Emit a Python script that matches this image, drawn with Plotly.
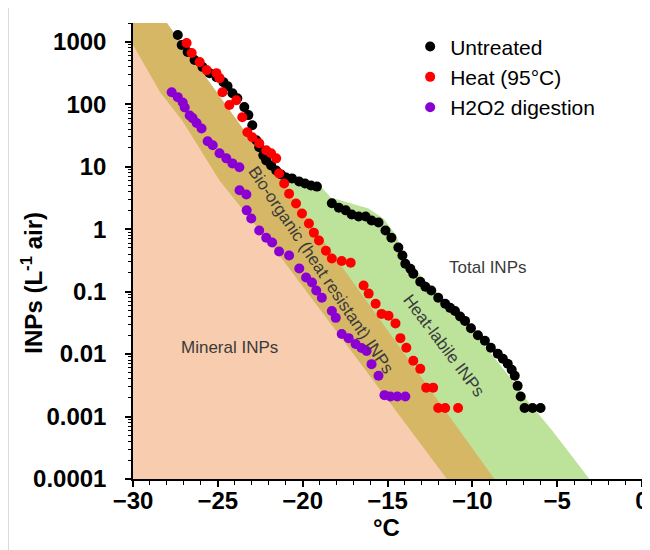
import plotly.graph_objects as go

# ---------------- data ----------------
untreated_T = [-27.36, -27.13, -26.78, -26.37, -25.90, -25.49, -25.08, -24.67, -24.43, -24.14,
               -23.85, -23.44, -23.20, -22.97, -22.73, -22.56, -22.32, -22.15, -21.86, -21.56,
               -21.27, -20.98, -20.63, -20.21, -19.86, -19.51, -19.16, -18.28, -17.87, -17.46,
               -17.11, -16.70, -16.29, -15.94, -15.53, -15.12, -14.77, -14.36, -14.12, -13.95,
               -13.65, -13.48, -13.07, -12.77, -12.42, -12.01, -11.60, -11.31, -11.02, -10.72,
               -10.43, -10.08, -9.67, -9.26, -8.91, -8.50, -8.20, -7.91, -7.68, -7.50,
               -7.33, -7.15, -6.92, -6.45, -5.98]
untreated_inp = [1282, 887, 686, 510, 394, 315, 272, 226, 195, 150,
                 125, 90, 67, 46, 26.5, 20.5, 15.2, 12.6, 10.5, 8.7,
                 7.5, 6.7, 6.5, 5.8, 5.4, 5.0, 4.8, 2.6, 2.2, 2.0,
                 1.72, 1.6, 1.6, 1.38, 1.28, 0.95, 0.73, 0.51, 0.38, 0.28,
                 0.233, 0.194, 0.144, 0.12, 0.104, 0.08, 0.064, 0.055, 0.049, 0.040,
                 0.034, 0.026, 0.020, 0.0163, 0.0126, 0.0101, 0.0084, 0.0070, 0.0056, 0.0045,
                 0.0031, 0.0021, 0.00137, 0.00137, 0.00137]

heat_T = [-26.84, -26.54, -26.07, -25.66, -25.08, -24.90, -24.73, -24.32, -23.91, -23.56,
          -23.26, -22.97, -22.56, -22.15, -21.86, -21.56, -21.39, -21.09, -20.80, -20.39,
          -20.04, -19.63, -19.34, -19.04, -18.63, -18.28, -17.70, -17.17, -16.41, -16.11,
          -15.70, -15.35, -14.94, -14.53, -14.24, -13.89, -13.48, -13.07, -12.72, -12.31,
          -12.01, -11.60, -10.84]
heat_inp = [955, 660, 473, 352, 315, 262, 156, 97, 116, 62,
            35.6, 29.6, 23.7, 18.3, 16.4, 13.6, 7.8, 5.4, 3.7, 2.58,
            1.78, 1.23, 0.88, 0.66, 0.45, 0.34, 0.31, 0.29, 0.125, 0.093,
            0.064, 0.044, 0.041, 0.031, 0.018, 0.0126, 0.0078, 0.0058, 0.0029, 0.0029,
            0.00137, 0.00137, 0.00137]

h2o2_T = [-27.72, -27.36, -27.07, -26.95, -26.66, -26.49, -26.25, -25.96, -25.60, -25.30,
          -24.90, -24.50, -24.14, -23.73, -23.72, -23.32, -23.30, -23.03, -22.56, -22.15,
          -21.80, -21.39, -20.80, -20.20, -19.80, -19.45, -19.20, -18.87, -18.28, -18.05,
          -17.70, -17.29, -16.88, -16.53, -16.23, -15.94, -15.53, -15.18, -14.83, -14.42,
          -13.95]
h2o2_inp = [156, 130, 107, 89, 66, 60, 50, 41, 25.5, 22,
            16.4, 13.6, 11.3, 9.8, 4.2, 3.6, 2.0, 1.48, 0.95, 0.73,
            0.61, 0.44, 0.38, 0.234, 0.168, 0.14, 0.104, 0.08, 0.049, 0.038,
            0.021, 0.018, 0.0145, 0.0125, 0.0112, 0.0069, 0.0045, 0.0022, 0.0021, 0.0021,
            0.0021]

# shaded-region boundaries (temperature, INP L-1)
T_MIN, T_MAX = -30, 0
INP_MIN, INP_MAX = 1e-4, 2000
mineral_T = [-30, -28.4, -27.1, -24.9, -21.6, -17.7, -11.5]
mineral_inp = [900, 155, 55, 6, 0.46, 0.018, 1e-4]
bio_T = [-28.0, -8.7]
bio_inp = [2000, 1e-4]
labile_T = [-22.56, -21.68, -20.22, -18.93, -18.34, -16.12, -15.24, -14.48, -14.07,
            -12.9, -11.72, -10.26, -8.79, -7.62, -6.74, -5.28, -3.1]
labile_inp = [17.5, 8.7, 6.0, 4.84, 3.2, 2.15, 1.48, 0.79, 0.38,
              0.162, 0.077, 0.0284, 0.0094, 0.0037, 0.00178, 0.00059, 1e-4]

x_ticks = [-30, -25, -20, -15, -10, -5, 0]
y_ticks = [1e-4, 1e-3, 1e-2, 1e-1, 1, 10, 100, 1000]
y_tick_text = ["0.0001", "0.001", "0.01", "0.1", "1", "10", "100", "1000"]

series_names = ["Untreated", "Heat (95°C)", "H2O2 digestion"]
region_labels = ["Total INPs", "Heat-labile INPs", "Bio-organic (heat resistant) INPs", "Mineral INPs"]
x_title = "°C"
y_title = "INPs (L<sup>-1</sup> air)"

# ---------------- figure ----------------
FONT = "Liberation Sans, Arial, Helvetica, sans-serif"
GREEN = "#BDE39A"
TAN = "#D6B766"
PINK = "#F8CCAE"

fig = go.Figure()

# green (heat-labile) region: from top-left corner, along the total-INP boundary
fig.add_trace(go.Scatter(x=[T_MIN, bio_T[0]] + labile_T + [T_MIN],
                         y=[INP_MAX, INP_MAX] + labile_inp + [INP_MIN],
                         fill="toself", fillcolor=GREEN, mode="none",
                         hoverinfo="skip", showlegend=False))
# tan (bio-organic heat-resistant) region
fig.add_trace(go.Scatter(x=[T_MIN] + bio_T + [T_MIN],
                         y=[INP_MAX] + bio_inp + [INP_MIN],
                         fill="toself", fillcolor=TAN, mode="none",
                         hoverinfo="skip", showlegend=False))
# pink (mineral) region
fig.add_trace(go.Scatter(x=mineral_T + [T_MIN],
                         y=mineral_inp + [INP_MIN],
                         fill="toself", fillcolor=PINK, mode="none",
                         hoverinfo="skip", showlegend=False))

fig.add_trace(go.Scatter(x=untreated_T, y=untreated_inp, mode="markers", name=series_names[0],
                         marker=dict(color="#000000", size=10)))
fig.add_trace(go.Scatter(x=heat_T, y=heat_inp, mode="markers", name=series_names[1],
                         marker=dict(color="#FF0000", size=10)))
fig.add_trace(go.Scatter(x=h2o2_T, y=h2o2_inp, mode="markers", name=series_names[2],
                         marker=dict(color="#8A00D2", size=10)))

ann_font = dict(family=FONT, size=17, color="#3A3A3A")
fig.add_annotation(x=-9.1, y=-0.62, xref="x", yref="y", text=region_labels[0],
                   showarrow=False, font=ann_font)
fig.add_annotation(x=-11.7, y=-1.87, xref="x", yref="y", text=region_labels[1],
                   showarrow=False, font=ann_font, textangle=53)
fig.add_annotation(x=-18.9, y=-0.66, xref="x", yref="y", text=region_labels[2],
                   showarrow=False, font=ann_font, textangle=56)
fig.add_annotation(x=-24.3, y=-1.9, xref="x", yref="y", text=region_labels[3],
                   showarrow=False, font=ann_font)

title_font = dict(family=FONT, size=24, color="black", weight="bold")
fig.add_annotation(x=0.498, y=-0.106, xref="paper", yref="paper", text=x_title,
                   showarrow=False, font=title_font, xanchor="center", yanchor="middle")
fig.add_annotation(x=-0.199, y=0.43, xref="paper", yref="paper", text=y_title,
                   showarrow=False, font=title_font, textangle=-90,
                   xanchor="center", yanchor="middle")

fig.update_layout(
    width=642, height=542,
    margin=dict(l=125, r=8, t=15, b=71),
    paper_bgcolor="white", plot_bgcolor="white",
    font=dict(family=FONT, color="black"),
    showlegend=True,
    legend=dict(x=0.5445, y=0.9925, xanchor="left", yanchor="top",
                font=dict(family=FONT, size=21, color="black"),
                bgcolor="rgba(0,0,0,0)", borderwidth=0, tracegroupgap=0),
    xaxis=dict(range=[T_MIN, T_MAX], tickvals=x_ticks, ticks="outside", ticklen=6,
               tickwidth=1.5, tickcolor="black", showline=True, linecolor="black",
               linewidth=1.5, showgrid=False, zeroline=False, automargin=False,
               ticklabeloverflow="allow", ticklabelstandoff=-7,
               tickfont=dict(family=FONT, size=24, color="black", weight="bold"),
               minor=dict(ticks="outside", ticklen=4, tickwidth=1.2, tickcolor="black",
                          dtick=1, showgrid=False)),
    yaxis=dict(type="log", range=[-4, 3.301], tickvals=y_ticks, ticktext=y_tick_text,
               ticks="outside", ticklen=6, tickwidth=1.5, tickcolor="black",
               showline=True, linecolor="black", linewidth=1.5, showgrid=False,
               zeroline=False, automargin=False, ticklabelstandoff=14,
               ticklabeloverflow="allow",
               tickfont=dict(family=FONT, size=24, color="black", weight="bold"),
               minor=dict(ticks="outside", ticklen=3, tickwidth=1, tickcolor="black",
                          dtick="D1", showgrid=False)),
)

# faint frame line at the left edge of the picture
fig.add_shape(type="line", xref="paper", yref="paper", x0=-0.245, x1=-0.245, y0=-0.156, y1=1.033,
              line=dict(color="#D0D0D0", width=1))

fig.write_html("out.html")
